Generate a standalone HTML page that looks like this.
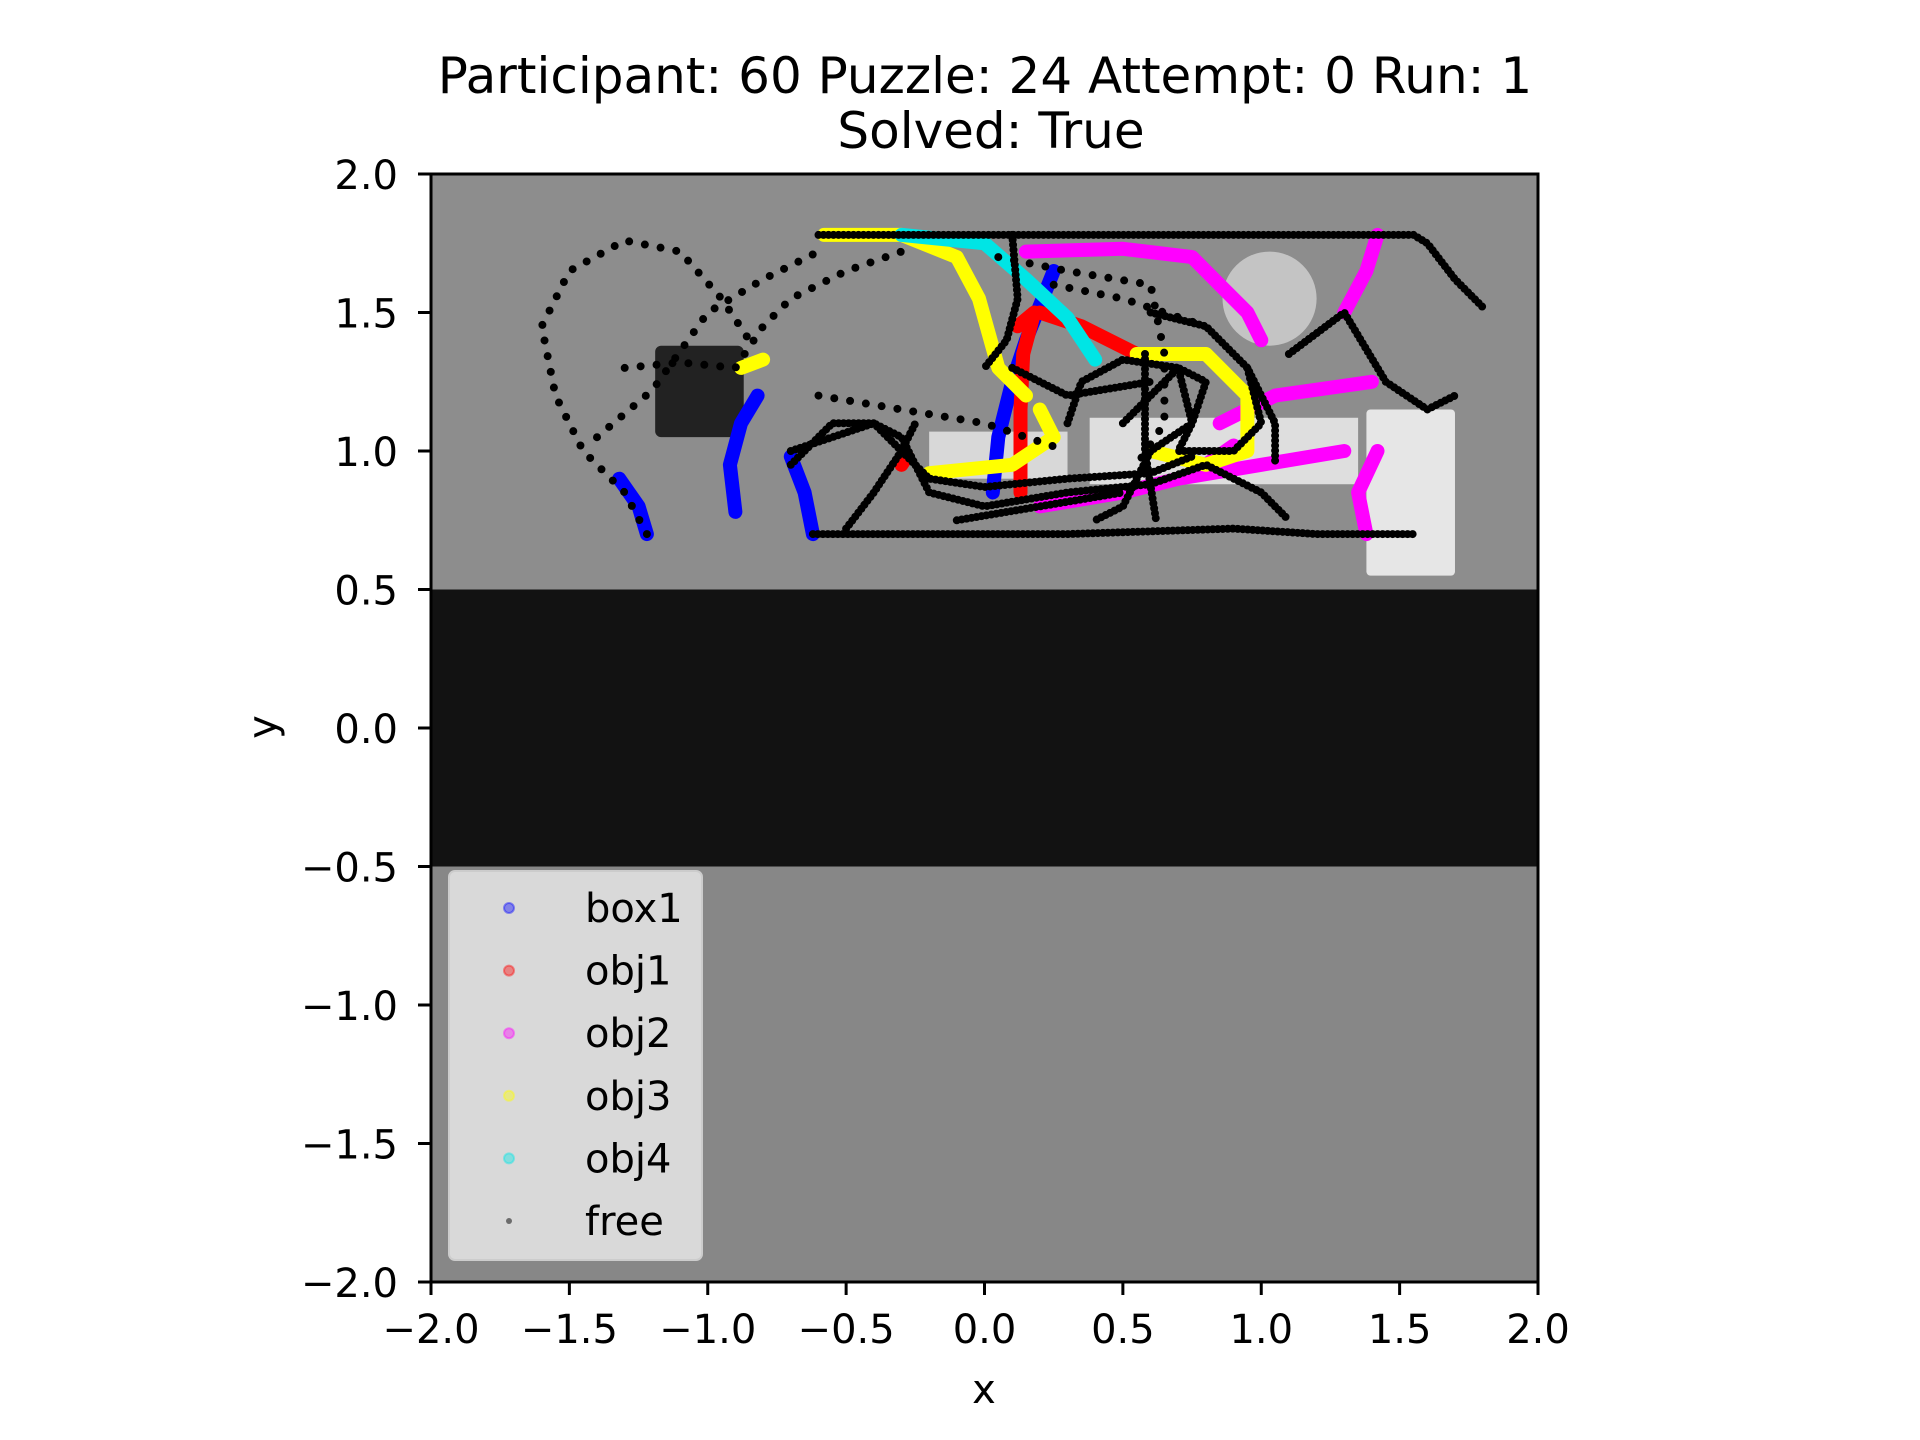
<!DOCTYPE html>
<html><head><meta charset="utf-8"><style>
html,body{margin:0;padding:0;background:#fff;}
svg{display:block;font-family:"DejaVu Sans","Liberation Sans",sans-serif;}
</style></head><body>
<svg id="chart" width="1920" height="1440" viewBox="0 0 1920 1440">
<text x="985" y="93" font-size="50" text-anchor="middle">Participant: 60 Puzzle: 24 Attempt: 0 Run: 1</text>
<text x="991" y="148" font-size="50" text-anchor="middle">Solved: True</text>
<g id="bg"></g>
<g id="marks"></g>
<g id="axes"></g>
</svg>
<script>
const xTicks=[-2.0,-1.5,-1.0,-0.5,0.0,0.5,1.0,1.5,2.0];
const yTicks=[-2.0,-1.5,-1.0,-0.5,0.0,0.5,1.0,1.5,2.0];
const seriesNames=["box1","obj1","obj2","obj3","obj4","free"];
const seriesColors=["#0000ff","#ff0000","#ff00ff","#ffff00","#00e5e5","#000000"];
const box1Paths=[[[-1.22,0.7],[-1.25,0.8],[-1.32,0.9]],[[-0.9,0.78],[-0.92,0.95],[-0.88,1.1],[-0.82,1.2]],[[-0.62,0.7],[-0.65,0.85],[-0.7,0.98]],[[0.03,0.85],[0.05,1.05],[0.1,1.25],[0.15,1.4],[0.25,1.65]]];
const obj1Paths=[[[0.13,0.85],[0.13,1.15],[0.14,1.35],[0.18,1.5],[0.12,1.45]],[[0.2,1.5],[0.35,1.45],[0.55,1.35]],[[-0.3,0.95],[-0.28,0.98]]];
const obj2Paths=[[[0.2,0.8],[0.5,0.85],[0.7,0.9],[1.0,0.95],[1.3,1.0]],[[0.85,1.1],[1.05,1.2],[1.4,1.25]],[[1.38,0.7],[1.35,0.85],[1.42,1.0]],[[1.3,1.5],[1.38,1.65],[1.42,1.78]],[[0.15,1.72],[0.5,1.73],[0.75,1.7],[0.85,1.6],[0.95,1.5],[1.0,1.4]],[[0.8,0.95],[0.9,1.02]]];
const obj3Paths=[[[-0.58,1.78],[-0.3,1.78],[-0.1,1.7],[-0.02,1.55],[0.05,1.3],[0.15,1.2]],[[-0.2,0.92],[0.1,0.95],[0.25,1.05],[0.2,1.15]],[[0.55,1.35],[0.8,1.35],[0.95,1.2],[0.95,1.0],[0.8,0.95],[0.6,1.0]],[[-0.88,1.3],[-0.8,1.33]]];
const obj4Paths=[[[-0.3,1.78],[0.0,1.75],[0.15,1.62],[0.3,1.48],[0.4,1.33]]];
const freePaths=[[[-1.22,0.7],[-1.3,0.85],[-1.45,1.0],[-1.55,1.2],[-1.6,1.45],[-1.5,1.65],[-1.3,1.76],[-1.1,1.72],[-0.95,1.55],[-0.85,1.4]],
[[-0.6,1.78],[1.55,1.78],[1.6,1.75],[1.7,1.62],[1.8,1.52]],
[[-0.62,0.7],[0.3,0.7],[0.9,0.72],[1.2,0.7],[1.55,0.7]],
[[-1.3,1.3],[-1.1,1.32],[-0.9,1.3],[-0.8,1.45],[-0.7,1.55],[-0.5,1.65],[-0.3,1.72]],
[[-0.7,1.0],[-0.55,1.05],[-0.4,1.1],[-0.3,1.05],[-0.2,0.85],[0.0,0.8],[0.3,0.85],[0.6,0.88],[0.8,0.95],[1.0,0.85],[1.1,0.75]],
[[0.5,1.1],[0.6,1.2],[0.7,1.3],[0.8,1.25],[0.75,1.1],[0.7,1.0],[0.9,1.0],[1.0,1.1],[0.95,1.3]],
[[0.05,1.7],[0.3,1.65],[0.6,1.6],[0.65,1.35],[0.65,1.1],[0.55,0.95]],
[[1.1,1.35],[1.3,1.5],[1.45,1.25],[1.6,1.15],[1.7,1.2]],
[[0.1,1.3],[0.3,1.2],[0.6,1.25]],
[[-0.6,1.2],[-0.3,1.15],[0.0,1.1],[0.3,1.0]],
[[-1.4,1.05],[-1.2,1.22],[-1.0,1.5],[-0.8,1.62],[-0.6,1.72]],
[[0.1,1.78],[0.12,1.55],[0.08,1.4],[0.0,1.3]],
[[-0.7,0.95],[-0.55,1.1],[-0.4,1.1],[-0.3,1.0],[-0.2,0.9],[0.0,0.87],[0.3,0.9],[0.6,0.92],[0.75,0.98]],
[[0.3,1.1],[0.35,1.25],[0.5,1.33],[0.7,1.3],[0.75,1.1],[0.6,1.0],[0.5,0.8],[0.4,0.75]],
[[0.6,1.5],[0.8,1.45],[0.95,1.3],[1.05,1.1],[1.05,0.95]],
[[-0.5,0.72],[-0.4,0.85],[-0.3,1.0],[-0.25,1.1]],
[[0.25,1.6],[0.5,1.55],[0.8,1.45]],
[[-0.1,0.75],[0.2,0.8],[0.5,0.85]],
[[0.58,1.35],[0.58,1.0],[0.62,0.75]]];
const denseFree=[false,true,true,false,true,true,false,true,true,false,false,true,true,true,true,true,false,true,true];
const X0=431,X1=1538,Y0=174,Y1=1282;
const sx=v=>X0+(v+2)/4*(X1-X0);
const sy=v=>Y1-(v+2)/4*(Y1-Y0);
const NS="http://www.w3.org/2000/svg";
function mk(tag,attrs,parent){const e=document.createElementNS(NS,tag);for(const k in attrs)e.setAttribute(k,attrs[k]);parent.appendChild(e);return e;}
const bg=document.getElementById('bg'),marks=document.getElementById('marks'),axes=document.getElementById('axes');
let e;
e=mk('rect',{x:X0,y:Y0,width:X1-X0,height:sy(0.5)-Y0,fill:'#8d8d8d'},bg);

e=mk('rect',{x:X0,y:sy(0.5),width:X1-X0,height:sy(-0.5)-sy(0.5),fill:'#121212'},bg);

e=mk('rect',{x:X0,y:sy(-0.5),width:X1-X0,height:Y1-sy(-0.5),fill:'#878787'},bg);

e=mk('rect',{x:sx(-1.19),y:sy(1.38),width:sx(-0.87)-sx(-1.19),height:sy(1.05)-sy(1.38),rx:6,fill:'#222'},bg);

e=mk('rect',{x:sx(0.38),y:sy(1.12),width:sx(1.35)-sx(0.38),height:sy(0.88)-sy(1.12),fill:'#dedede'},bg);

e=mk('rect',{x:sx(1.38),y:sy(1.15),width:sx(1.7)-sx(1.38),height:sy(0.55)-sy(1.15),rx:4,fill:'#e6e6e6'},bg);

e=mk('circle',{cx:sx(1.03),cy:sy(1.55),r:sx(0.17)-sx(0),fill:'#c4c4c4'},bg);

e=mk('rect',{x:sx(-0.2),y:sy(1.07),width:sx(0.3)-sx(-0.2),height:sy(0.9)-sy(1.07),fill:'#d8d8d8'},bg);

const pathStr=p=>p.map((q,i)=>(i?'L':'M')+sx(q[0]).toFixed(1)+' '+sy(q[1]).toFixed(1)).join(' ');
const colored=[box1Paths,obj1Paths,obj2Paths,obj3Paths,obj4Paths];
colored.forEach((set,si)=>{set.forEach(p=>{
  e=mk('path',{d:pathStr(p),fill:'none',stroke:seriesColors[si],'stroke-width':14,'stroke-linecap':'round','stroke-linejoin':'round'},marks);
  
  
});});
freePaths.forEach((p,i)=>{
  e=mk('path',{d:pathStr(p),fill:'none',stroke:'#000','stroke-width':8,'stroke-linecap':'round','stroke-dasharray':denseFree[i]?'0 5':'0 16'},marks);
  
  
});
e=mk('rect',{x:X0,y:Y0,width:X1-X0,height:Y1-Y0,fill:'none',stroke:'#000','stroke-width':3},axes);

xTicks.forEach(t=>{
  mk('line',{x1:sx(t),x2:sx(t),y1:Y1,y2:Y1+13,stroke:'#000','stroke-width':3},axes);
  e=mk('text',{x:sx(t),y:1343,'font-size':40,'text-anchor':'middle'},axes);
  e.textContent=(t<0?'\u2212':'')+Math.abs(t).toFixed(1);
  
});
yTicks.forEach(t=>{
  mk('line',{x1:X0-13,x2:X0,y1:sy(t),y2:sy(t),stroke:'#000','stroke-width':3},axes);
  e=mk('text',{x:X0-33,y:sy(t)+15,'font-size':40,'text-anchor':'end'},axes);
  e.textContent=(t<0?'\u2212':'')+Math.abs(t).toFixed(1);
  
});
e=mk('text',{x:984,y:1403,'font-size':40,'text-anchor':'middle'},axes);e.textContent='x';

e=mk('text',{x:0,y:0,'font-size':40,'text-anchor':'middle',transform:'translate(276,727) rotate(-90)'},axes);e.textContent='y';

const lg=mk('g',{},axes);

mk('rect',{x:449,y:871,width:253,height:389,rx:6,fill:'#e8e8e8','fill-opacity':0.85,stroke:'#cccccc','stroke-width':2},lg);
seriesNames.forEach((n,i)=>{
  const yy=908+i*62.6;
  if(i<5){e=mk('circle',{cx:509,cy:yy,r:5,fill:seriesColors[i],'fill-opacity':0.4,stroke:seriesColors[i],'stroke-opacity':0.4,'stroke-width':2},lg);}
  else{e=mk('circle',{cx:509,cy:yy,r:3,fill:'#000','fill-opacity':0.5},lg);}
  
  e=mk('text',{x:585,y:yy+14,'font-size':40},lg);e.textContent=n;
  
});
</script>
</body></html>
